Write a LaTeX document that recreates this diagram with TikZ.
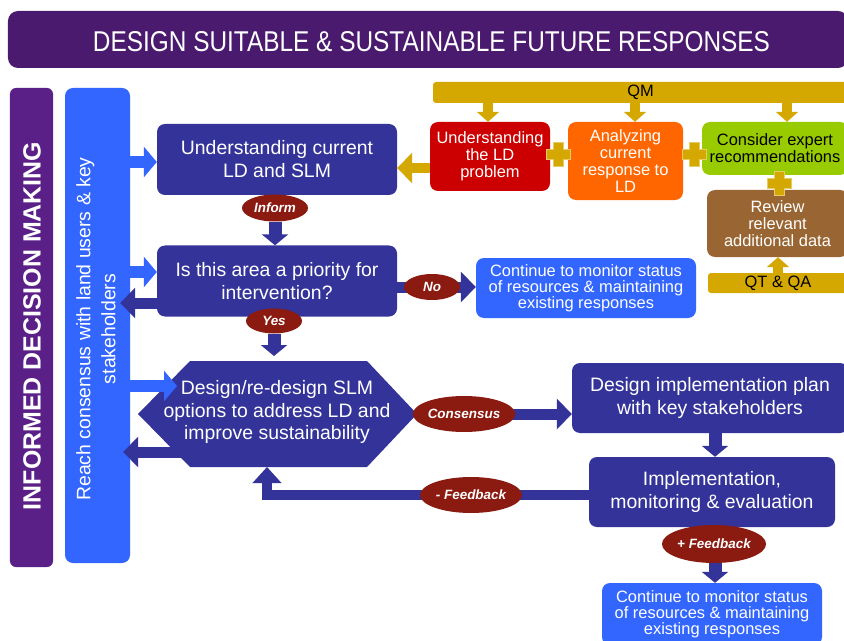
\documentclass[tikz,border=0pt]{standalone}
\usepackage{fontspec}
\usepackage{graphicx}
\setmainfont{Liberation Sans}
\usetikzlibrary{arrows.meta,shapes.geometric,calc}
\definecolor{titlepurple}{HTML}{4A1A6E}
\definecolor{barpurple}{HTML}{5A2088}
\definecolor{lblue}{HTML}{3366FF}
\definecolor{dblue}{HTML}{333399}
\definecolor{dred}{HTML}{8B1A10}
\definecolor{gold}{HTML}{D4A800}
\definecolor{goldedge}{HTML}{E6CC66}
\definecolor{boxred}{HTML}{CC0000}
\definecolor{boxorange}{HTML}{FF6600}
\definecolor{boxgreen}{HTML}{99CC00}
\definecolor{boxbrown}{HTML}{996633}
\begin{document}
\begin{tikzpicture}[x=1bp,y=-1bp,
 dtext/.style={text=white, align=center, inner sep=0pt, font=\fontsize{19.5}{23}\selectfont},
 dbox/.style={dtext, fill=dblue, rounded corners=8bp},
 lbox/.style={fill=lblue, rounded corners=8bp, text=white, align=center, inner sep=0pt, font=\fontsize{16.5}{16}\selectfont},
 sbox/.style={rounded corners=8bp, text=white, align=center, inner sep=0pt, font=\fontsize{16.5}{17}\selectfont},
 gbar/.style={fill=gold, rounded corners=3bp, inner sep=0pt, font=\fontsize{16.5}{17}\selectfont},
 lab/.style={ellipse, fill=dred, text=white, inner sep=0pt, font=\bfseries\itshape\fontsize{13.5}{14}\selectfont},
 lbarr/.style={draw=lblue, line width=12bp, -{Triangle[width=30bp,length=13bp]}},
 dbarr/.style={draw=dblue, line width=11bp, -{Triangle[width=30bp,length=15bp]}},
 darr/.style={draw=dblue, line width=13bp, -{Triangle[width=26bp,length=11bp]}},
 garr/.style={draw=gold, line width=10bp, -{Triangle[width=22bp,length=10bp]}},
 garrb/.style={draw=gold, line width=10bp, -{Triangle[width=30bp,length=15bp]}},
 goldplus/.pic={\filldraw[fill=gold, draw=goldedge, line width=1bp]
   (-5,-12) -- (5,-12) -- (5,-5) -- (12,-5) -- (12,5) -- (5,5) -- (5,12) -- (-5,12) -- (-5,5) -- (-12,5) -- (-12,-5) -- (-5,-5) -- cycle;},
]
\clip (0,0) rectangle (844,641);
\fill[white] (0,0) rectangle (844,641);

% title
\node[fill=titlepurple, rounded corners=10bp, minimum width=840bp, minimum height=57bp, inner sep=0pt] (title) at (428,39.5) {};
\node[text=white, anchor=base, inner sep=0pt] (titletext) at (431.5,52) {\resizebox{677bp}{20bp}{DESIGN SUITABLE \& SUSTAINABLE FUTURE RESPONSES}};

% side bars
\node[fill=barpurple, rounded corners=6bp, minimum width=43bp, minimum height=479bp, inner sep=0pt] (idm) at (31.5,327.5) {};
\node[rotate=90, text=white, inner sep=0pt, font=\bfseries\fontsize{25}{25}\selectfont] (idmtext) at (32,326) {INFORMED DECISION MAKING};
\node[fill=lblue, rounded corners=8bp, minimum width=65bp, minimum height=475bp, inner sep=0pt] (bar) at (97.5,325.5) {};
\node[rotate=90, text=white, align=center, inner sep=0pt, font=\fontsize{19.5}{25}\selectfont] (bartext) at (96,329) {Reach consensus with land users \& key\\stakeholders};

% main boxes
\node[dbox, minimum width=240bp, minimum height=71bp] (ucur) at (277,159.5) {Understanding current\\LD and SLM};
\node[dbox, minimum width=240bp, minimum height=71bp] (prio) at (277,281) {Is this area a priority for\\intervention?};
\node[lbox, minimum width=220bp, minimum height=60bp] (cont1) at (586,288) {Continue to monitor status\\of resources \& maintaining\\existing responses};

% hexagon
\coordinate (hexL) at (138,414);
\coordinate (hexR) at (417,414);
\coordinate (hexT) at (277,361);
\coordinate (hexB) at (267,467);
\coordinate (hexin) at (177,386);
\coordinate (hexout) at (185,452);
\draw[dbarr, shorten >=-7bp] (hexout) -- (bar.east |- hexout);
\fill[dblue] (hexL) -- (190,361) -- (367,361) -- (hexR) -- (367,467) -- (190,467) -- cycle;

\node[dbox, minimum width=276bp, minimum height=70bp] (plan) at (710,398) {Design implementation plan\\with key stakeholders};
\node[dbox, minimum width=246bp, minimum height=70bp] (impl) at (712,492) {Implementation,\\monitoring \& evaluation};
\node[lbox, minimum width=220bp, minimum height=62bp] (cont2) at (712,614) {Continue to monitor status\\of resources \& maintaining\\existing responses};

% top right
\node[gbar, minimum width=415bp, minimum height=21bp] (qm) at (640.5,92.5) {QM};
\node[gbar, minimum width=140bp, minimum height=20bp] (qtqa) at (778,283) {QT \& QA};
\node[sbox, fill=boxred, minimum width=120bp, minimum height=69bp] (red) at (490,156.5) {Understanding\\the LD\\problem};
\node[sbox, fill=boxorange, minimum width=115bp, minimum height=78bp] (orange) at (625.5,161) {Analyzing\\current\\response to\\LD};
\node[sbox, fill=boxgreen, text=black, minimum width=146bp, minimum height=53bp] (green) at (775,148.5) {Consider expert\\recommendations};
\node[sbox, fill=boxbrown, minimum width=141bp, minimum height=67bp] (brown) at (777.5,223.5) {Review\\relevant\\additional data};

\draw[garr] (qm.south -| 488,0) -- (red.north -| 488,0);
\draw[garr] (qm.south -| 635,0) -- (orange.north -| 635,0);
\draw[garr] (qm.south -| 787,0) -- (green.north -| 787,0);
\draw[garr] (qtqa.north -| 778,0) -- (brown.south -| 778,0);
\draw[garrb] (red.west |- 0,168) -- (ucur.east |- 0,168);
\pic at (558,155) {goldplus};
\pic at (694,155) {goldplus};
\pic at (779,184) {goldplus};

% connectors
\draw[lbarr] (bar.east |- 0,162) -- (ucur.west |- 0,162);
\draw[lbarr] (bar.east |- 0,272) -- (prio.west |- 0,272);
\draw[lbarr] (bar.east |- hexin) -- (hexin);
\draw[dbarr, shorten >=-10bp] (prio.west |- 0,303) -- (bar.east |- 0,303);

\node[dtext] (hextext) at (277,412) {Design/re-design SLM\\options to address LD and\\improve sustainability};

\node[lab, minimum width=66bp, minimum height=27bp] (inform) at (275,208) {Inform};
\draw[darr] (inform.south) -- (inform.south |- prio.north);
\node[lab, minimum width=56bp, minimum height=25bp] (yes) at (274,321) {Yes};
\draw[darr, shorten >=5bp] (yes.south) -- (yes.south |- hexT);

\draw[dbarr] (prio.east |- 0,287) -- (cont1.west |- 0,287);
\node[lab, minimum width=56bp, minimum height=26bp] (no) at (432,287) {No};

\draw[dbarr] (hexR) -- (plan.west |- hexR);
\node[lab, minimum width=102bp, minimum height=36bp] (cons) at (464,414) {Consensus};

\draw[darr] (plan.south -| 715,0) -- (impl.north -| 715,0);

\draw[draw=dblue, line width=10bp, -{Triangle[width=28bp,length=16bp]}] (impl.west |- 0,495) -| (hexB);
\node[lab, minimum width=102bp, minimum height=36bp] (fbminus) at (471,495) {- Feedback};

\draw[darr] (impl.south -| 715,0) -- (cont2.north -| 715,0);
\node[lab, minimum width=102bp, minimum height=38bp] (fbplus) at (714,544) {+ Feedback};
\end{tikzpicture}
\end{document}
